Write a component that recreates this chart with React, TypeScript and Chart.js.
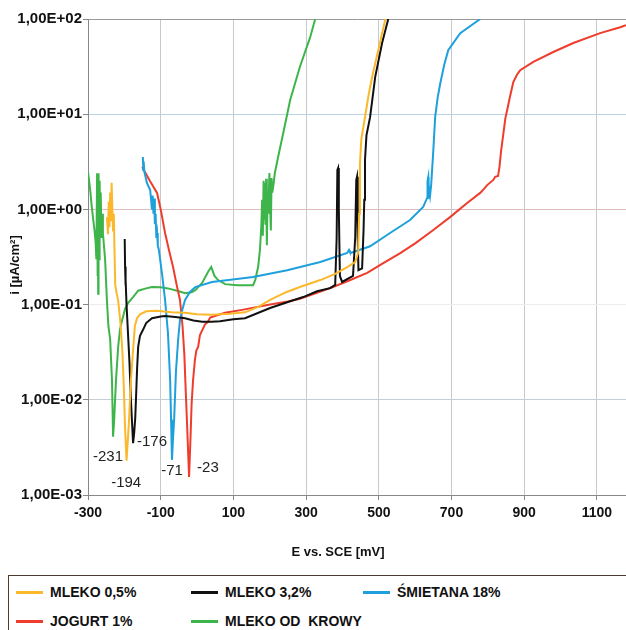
import React, { useEffect, useRef } from "react";
import { Chart, registerables } from "chart.js";
Chart.register(...registerables);

const FONT = "'Liberation Sans', Arial, sans-serif";

const xTicks = [-300, -100, 100, 300, 500, 700, 900, 1100];
const yTicks = [0.001, 0.01, 0.1, 1, 10, 100];

const seriesNames = ["MLEKO 0,5%", "MLEKO 3,2%", "ŚMIETANA 18%", "JOGURT 1%", "MLEKO OD  KROWY"];
const seriesColors = ["#fbb82a", "#111111", "#1ea0dc", "#ee3d2c", "#3db54a"];

// MLEKO 0,5%
const m05E = [-248, -245, -243, -241, -239, -237, -235, -233, -231, -229, -227, -225, -221, -217, -210, -205, -201, -198, -194, -190, -187, -182, -176, -171, -165, -157, -140, -110, -70, -33, 0, 41, 90, 132, 170, 201, 245, 283, 339, 380, 413, 435, 443, 446, 448, 452, 462, 472, 482, 500, 518];
const m05I = [0.83, 0.55, 1.2, 0.65, 1.5, 0.75, 1.9, 1.0, 0.6, 0.9, 0.35, 0.16, 0.13, 0.11, 0.06, 0.03, 0.012, 0.005, 0.0023, 0.004, 0.0062, 0.016, 0.033, 0.06, 0.072, 0.079, 0.085, 0.086, 0.083, 0.082, 0.079, 0.078, 0.08, 0.083, 0.095, 0.112, 0.135, 0.153, 0.181, 0.21, 0.248, 0.28, 0.35, 0.9, 3.0, 5.5, 9.3, 16, 25, 50, 100];

// MLEKO 3,2%
const m32E = [-199, -198, -197, -196, -194, -190, -186, -182, -178, -176, -173, -170, -167, -165, -162, -157, -149, -140, -124, -100, -88, -60, -33, -10, 14, 40, 63, 100, 132, 201, 248, 292, 330, 366, 380, 384, 386, 388, 390, 393, 399, 429, 435, 438, 440, 442, 444, 454, 458, 460, 462, 466, 476, 490, 509, 526];
const m32I = [0.49, 0.25, 0.16, 0.18, 0.1, 0.05, 0.025, 0.01, 0.005, 0.0035, 0.0045, 0.0065, 0.013, 0.021, 0.036, 0.047, 0.054, 0.064, 0.072, 0.075, 0.076, 0.074, 0.072, 0.068, 0.066, 0.066, 0.067, 0.07, 0.072, 0.092, 0.106, 0.12, 0.138, 0.149, 0.161, 0.5, 2.6, 2.72, 1.0, 0.2, 0.173, 0.2, 0.5, 2.04, 2.2, 0.5, 0.23, 0.24, 0.6, 1.26, 3.3, 6, 9.3, 24.5, 56, 100];

// ŚMIETANA 18%
const smE = [-149, -148, -147, -145, -138, -129, -124, -122, -120, -118, -116, -114, -112, -110, -108, -105, -96, -88, -80, -74, -71.5, -69, -66, -63, -58, -52, -47, -40, -33, -20, -5, 41, 132, 154, 248, 339, 413, 418, 420, 424, 476, 531, 586, 622, 633, 634, 636, 637, 639, 641, 644, 650, 655, 662, 669, 680, 691, 724, 779];
const smI = [3.55, 2.6, 3.2, 2.5, 1.9, 1.6, 1.0, 1.4, 0.9, 1.3, 0.7, 0.9, 0.5, 0.565, 0.42, 0.375, 0.205, 0.112, 0.05, 0.016, 0.0062, 0.00234, 0.004, 0.0062, 0.02, 0.043, 0.069, 0.09, 0.112, 0.135, 0.153, 0.173, 0.19, 0.195, 0.23, 0.28, 0.348, 0.375, 0.36, 0.35, 0.41, 0.565, 0.774, 1.06, 1.32, 2.0, 2.19, 1.3, 1.6, 1.4, 1.8, 4.2, 9.3, 15, 21, 33, 47, 71, 100];

// JOGURT 1%
const jgE = [-151, -130, -110, -100, -88, -77, -66, -56, -47, -40, -35, -31, -27, -24, -22, -18, -15, -11, -6, -2, 3, 8, 22, 30, 36, 77, 124, 201, 250, 283, 330, 374, 420, 468, 510, 559, 600, 650, 696, 743, 779, 790, 798, 815, 820, 828, 832, 836, 842, 848, 853, 862, 870, 880, 889, 925, 980, 1035, 1109, 1164, 1180];
const jgI = [2.79, 2.0, 1.49, 1.0, 0.565, 0.37, 0.248, 0.16, 0.112, 0.06, 0.03, 0.012, 0.005, 0.0025, 0.00155, 0.004, 0.009, 0.016, 0.026, 0.033, 0.036, 0.048, 0.062, 0.066, 0.073, 0.082, 0.088, 0.1, 0.108, 0.115, 0.133, 0.153, 0.18, 0.215, 0.27, 0.348, 0.44, 0.608, 0.83, 1.17, 1.49, 1.65, 1.8, 2.04, 2.2, 2.24, 2.8, 4, 6, 9, 11, 16, 21.7, 26, 29, 35.5, 45, 56, 71, 82, 86];

// MLEKO OD KROWY
const mkE = [-300, -297, -294, -290, -286, -282, -279, -277, -275, -274, -273, -272, -271, -269, -268, -266, -265, -263, -261, -259, -253, -248, -244, -239, -234, -231, -228, -223, -217, -212, -206, -198, -190, -176, -162, -140, -124, -100, -80, -50, -33, -15, -5, 14, 30, 39, 48, 58, 77, 110, 154, 160, 168, 173, 177, 179, 181, 183, 185, 186, 188, 190, 192, 194, 196, 199, 201, 203, 205, 207, 210, 214, 223, 237, 256, 283, 311, 325];
const mkI = [2.47, 2.0, 1.6, 1.1, 0.8, 0.6, 0.45, 0.3, 2.4, 0.2, 2.3, 0.13, 2.4, 0.3, 2.0, 0.6, 1.5, 0.5, 0.9, 0.565, 0.3, 0.112, 0.06, 0.043, 0.016, 0.0041, 0.0062, 0.016, 0.036, 0.055, 0.069, 0.09, 0.104, 0.12, 0.14, 0.148, 0.153, 0.152, 0.148, 0.138, 0.132, 0.135, 0.142, 0.169, 0.22, 0.248, 0.2, 0.181, 0.164, 0.16, 0.16, 0.181, 0.248, 0.375, 0.7, 1.26, 0.53, 2.0, 0.8, 1.9, 0.69, 2.1, 0.42, 1.3, 0.9, 2.41, 1.1, 0.6, 2.14, 1.5, 1.8, 2.41, 3.55, 6.3, 14, 31.5, 64, 100];

const seriesE = [m05E, m32E, smE, jgE, mkE];
const seriesI = [m05I, m32I, smI, jgI, mkI];

// corrosion potential labels
const labelTexts = ["-231", "-194", "-176", "-71", "-23"];
const labelE = [-245, -195, -124, -69, 30];
const labelI = [0.00251, 0.00134, 0.0036, 0.00179, 0.00192];

const xTitle = "E vs. SCE [mV]";
const yTitle = "i [µA/cm²]";

function fmtY(v: number): string {
  const e = Math.round(Math.log10(v));
  return "1,00E" + (e < 0 ? "-" : "+") + String(Math.abs(e)).padStart(2, "0");
}

const yGridColors: Record<string, string> = {
  "-3": "#888888",
  "-2": "#c3ced6",
  "-1": "#ececec",
  "0": "#dcbcbc",
  "1": "#b9d3e3",
  "2": "#9a9a9a",
};

const overlayPlugin = {
  id: "overlay",
  afterDatasetsDraw(chart: any) {
    const ctx = chart.ctx;
    const xs = chart.scales.x;
    const ys = chart.scales.y;
    ctx.save();
    ctx.fillStyle = "#222";
    ctx.font = `15px ${FONT}`;
    ctx.textAlign = "center";
    ctx.textBaseline = "middle";
    labelTexts.forEach((t, i) => {
      ctx.fillText(t, xs.getPixelForValue(labelE[i]), ys.getPixelForValue(labelI[i]));
    });
    ctx.fillStyle = "#111";
    ctx.font = `bold 13px ${FONT}`;
    ctx.fillText(xTitle, 338, 552);
    ctx.translate(15, 265);
    ctx.rotate(-Math.PI / 2);
    ctx.font = `bold 13px ${FONT}`;
    ctx.fillText(yTitle, 0, 0);
    ctx.restore();
  },
};

export default function App() {
  const ref = useRef<HTMLCanvasElement>(null);
  useEffect(() => {
    const datasets = seriesNames.map((name, k) => ({
      label: name,
      data: seriesE[k].map((x, j) => ({ x, y: seriesI[k][j] })),
      borderColor: seriesColors[k],
      backgroundColor: seriesColors[k],
      borderWidth: 2,
      pointRadius: 0,
      tension: 0,
      fill: false,
    }));
    const chart = new Chart(ref.current as HTMLCanvasElement, {
      type: "line",
      data: { datasets },
      options: {
        animation: false,
        responsive: false,
        devicePixelRatio: 1,
        parsing: false,
        layout: { padding: { top: 19, left: 0, right: 0, bottom: 0 } },
        plugins: { legend: { display: false }, tooltip: { enabled: false } },
        scales: {
          x: {
            type: "linear",
            min: -300,
            max: 1180,
            afterBuildTicks: (s: any) => {
              s.ticks = xTicks.map((v) => ({ value: v }));
            },
            afterFit: (s: any) => {
              s.height = 80;
            },
            ticks: {
              autoSkip: false,
              maxRotation: 0,
              padding: 5,
              color: "#111",
              font: { family: FONT, size: 14, weight: "bold" },
              callback: (v: any) => String(v),
            },
            grid: { color: "#c6cacd", tickLength: 5, tickColor: "#888" },
            border: { color: "#888" },
          },
          y: {
            type: "logarithmic",
            min: 0.001,
            max: 100,
            afterBuildTicks: (s: any) => {
              s.ticks = yTicks.map((v) => ({ value: v }));
            },
            afterFit: (s: any) => {
              s.width = 88;
            },
            ticks: {
              autoSkip: false,
              padding: 1,
              color: "#111",
              font: { family: FONT, size: 15, weight: "bold" },
              callback: (v: any) => fmtY(Number(v)),
            },
            grid: {
              color: (c: any) => yGridColors[String(Math.round(Math.log10(c.tick?.value ?? 1)))] || "#ccc",
              tickLength: 5,
              tickColor: "#888",
            },
            border: { color: "#888" },
          },
        },
      },
      plugins: [overlayPlugin],
    } as any);
    return () => chart.destroy();
  }, []);

  const legendRows = [[0, 1, 2], [3, 4]];
  const colX = [7, 182, 354];
  const rowY = [16, 45];

  return (
    <div style={{ position: "absolute", left: 0, top: 0, width: 626, height: 630, overflow: "hidden", background: "#fff" }}>
      <canvas ref={ref} width={626} height={575} style={{ display: "block" }} />
      <div
        style={{
          position: "absolute",
          left: 8,
          top: 575,
          width: 640,
          height: 90,
          border: "1px solid #4a3a30",
          boxSizing: "border-box",
          fontFamily: FONT,
          fontWeight: "bold",
          fontSize: 14,
          color: "#111",
        }}
      >
        {legendRows.map((row, r) =>
          row.map((k, c) => (
            <div key={k} style={{ position: "absolute", left: colX[c], top: rowY[r] - 9, height: 18, display: "flex", alignItems: "center", whiteSpace: "pre" }}>
              <span style={{ display: "inline-block", width: 27, height: 3, background: seriesColors[k], marginRight: 7 }} />
              <span>{seriesNames[k]}</span>
            </div>
          ))
        )}
      </div>
    </div>
  );
}
